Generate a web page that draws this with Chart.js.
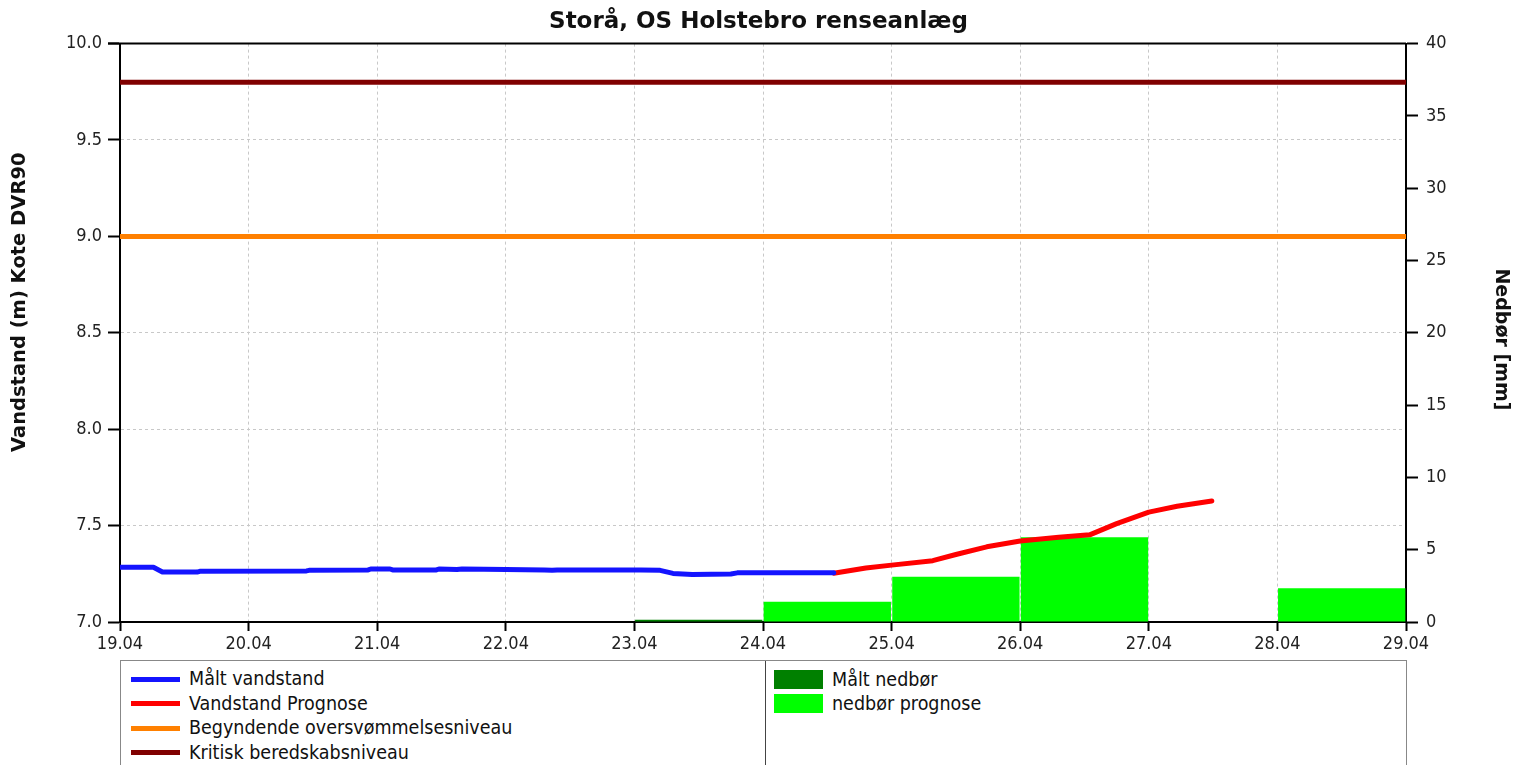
<!DOCTYPE html>
<html>
<head>
<meta charset="utf-8">
<script src="https://cdn.jsdelivr.net/npm/chart.js@4"></script>
<style>
  body { margin: 0; background: #fff; font-family: 'DejaVu Sans Condensed', 'Liberation Sans', sans-serif; }
  #wrap { position: relative; width: 1517px; height: 765px; overflow: hidden; }
  #legend { position: absolute; left: 120px; top: 660px; width: 1287px; height: 120px; border: 1px solid #888; box-sizing: border-box; }
  #legend .col { position: absolute; top: 0; height: 100%; }
  #legend .item { position: absolute; font-size: 19.5px; line-height: 24px; color: #111; white-space: nowrap; }
  #legend .line { position: absolute; width: 49px; height: 5px; }
  #legend .box { position: absolute; width: 49px; height: 19px; }
</style>
</head>
<body>
<div id="wrap">
  <canvas id="chart" width="1517" height="660"></canvas>
  <div id="legend"></div>
</div>
<script>
const title = 'Storå, OS Holstebro renseanlæg';
const dayLabels = ['19.04', '20.04', '21.04', '22.04', '23.04', '24.04', '25.04', '26.04', '27.04', '28.04', '29.04'];

// vandstand, x = dage efter 19.04
const maaltDag = [0, 0.26, 0.33, 0.6, 0.62, 1.45, 1.47, 1.93, 1.95, 2.10, 2.12, 2.46, 2.48, 2.62, 2.66, 3.0, 3.3, 3.36, 3.4, 4.05, 4.2, 4.3, 4.45, 4.75, 4.8, 5.0, 5.55];
const maaltVand = [7.284, 7.284, 7.259, 7.259, 7.263, 7.265, 7.268, 7.270, 7.275, 7.275, 7.270, 7.270, 7.275, 7.272, 7.275, 7.272, 7.270, 7.268, 7.270, 7.270, 7.268, 7.252, 7.247, 7.249, 7.255, 7.255, 7.255];
const progDag = [5.55, 5.8, 6.0, 6.32, 6.5, 6.74, 7.0, 7.3, 7.54, 7.75, 8.0, 8.22, 8.49];
const progVand = [7.253, 7.28, 7.295, 7.318, 7.35, 7.39, 7.42, 7.44, 7.452, 7.51, 7.57, 7.60, 7.628];

const oversvoemNiveau = 9.0;
const kritiskNiveau = 9.8;

// nedbør pr. døgn (19.04 .. 28.04)
const nedborDage = ['19.04', '20.04', '21.04', '22.04', '23.04', '24.04', '25.04', '26.04', '27.04', '28.04'];
const maaltNedbor = [0, 0, 0, 0, 0.15, 0, 0, 0, 0, 0];
const prognoseNedbor = [0, 0, 0, 0, 0, 1.4, 3.13, 5.86, 0, 2.33];

const FONT = "'DejaVu Sans Condensed', 'Liberation Sans', sans-serif";
const BOLD = "'DejaVu Sans', 'Liberation Sans', sans-serif";

const toXY = (xs, ys) => xs.map((x, i) => ({ x: x, y: ys[i] }));

const legendLines = [
  { label: 'Målt vandstand', color: '#1414ff' },
  { label: 'Vandstand Prognose', color: '#ff0000' },
  { label: 'Begyndende oversvømmelsesniveau', color: '#ff8000' },
  { label: 'Kritisk beredskabsniveau', color: '#800000' },
];
const legendBars = [
  { label: 'Målt nedbør', color: '#008000' },
  { label: 'nedbør prognose', color: '#00ff00' },
];

const frame = {
  id: 'frame',
  afterDraw(chart) {
    const { ctx, chartArea: a } = chart;
    ctx.save();
    ctx.strokeStyle = '#000';
    ctx.lineWidth = 2;
    ctx.beginPath();
    ctx.moveTo(a.left - 12, a.top);
    ctx.lineTo(a.right, a.top);
    ctx.stroke();
    ctx.restore();
  }
};

const ctx = document.getElementById('chart');
const chart = new Chart(ctx, {
  type: 'bar',
  data: {
    datasets: [
      { type: 'line', label: legendLines[3].label, data: [{ x: 0, y: kritiskNiveau }, { x: 10, y: kritiskNiveau }],
        borderColor: legendLines[3].color, borderWidth: 5, pointRadius: 0, xAxisID: 'x', yAxisID: 'y', order: 1 },
      { type: 'line', label: legendLines[2].label, data: [{ x: 0, y: oversvoemNiveau }, { x: 10, y: oversvoemNiveau }],
        borderColor: legendLines[2].color, borderWidth: 5, pointRadius: 0, xAxisID: 'x', yAxisID: 'y', order: 1 },
      { type: 'line', label: legendLines[0].label, data: toXY(maaltDag, maaltVand),
        borderColor: legendLines[0].color, borderWidth: 5, pointRadius: 0, borderCapStyle: 'round', borderJoinStyle: 'round',
        xAxisID: 'x', yAxisID: 'y', order: 1 },
      { type: 'line', label: legendLines[1].label, data: toXY(progDag, progVand),
        borderColor: legendLines[1].color, borderWidth: 5, pointRadius: 0, borderCapStyle: 'round', borderJoinStyle: 'round',
        xAxisID: 'x', yAxisID: 'y', order: 1 },
      { label: legendBars[0].label, data: maaltNedbor, backgroundColor: legendBars[0].color,
        xAxisID: 'xb', yAxisID: 'y2', grouped: false, barPercentage: 0.99, categoryPercentage: 1, order: 2 },
      { label: legendBars[1].label, data: prognoseNedbor, backgroundColor: legendBars[1].color,
        xAxisID: 'xb', yAxisID: 'y2', grouped: false, barPercentage: 0.99, categoryPercentage: 1, order: 2 },
    ]
  },
  options: {
    responsive: false,
    animation: false,
    layout: { padding: 0 },
    plugins: {
      legend: { display: false },
      tooltip: { enabled: false },
      title: {
        display: true,
        text: title,
        color: '#111',
        font: { family: BOLD, size: 23, weight: 'bold', lineHeight: 1.2 },
        padding: { top: 8, bottom: 8 },
      },
    },
    scales: {
      x: {
        type: 'linear',
        position: 'bottom',
        min: 0,
        max: 10,
        offset: false,
        afterFit(s) { s.height = 38; },
        ticks: {
          stepSize: 1,
          autoSkip: false,
          maxRotation: 0,
          padding: 3,
          color: '#222',
          font: { family: FONT, size: 18 },
          callback: (v) => dayLabels[v],
        },
        grid: { offset: false, color: '#c8c8c8', tickColor: '#000', tickLength: 9, tickWidth: 2 },
        border: { color: '#000', width: 2, dash: [3, 3] },
      },
      xb: {
        type: 'category',
        labels: nedborDage,
        display: false,
        offset: true,
      },
      y: {
        position: 'left',
        min: 7,
        max: 10,
        afterFit(s) { s.width = 120; },
        ticks: {
          stepSize: 0.5,
          padding: 6,
          color: '#222',
          font: { family: FONT, size: 18 },
          callback: (v) => v.toFixed(1),
        },
        grid: { color: '#c8c8c8', tickColor: '#000', tickLength: 12, tickWidth: 2 },
        border: { color: '#000', width: 2, dash: [3, 3] },
        title: {
          display: true,
          // mellemrum foran flytter teksten lidt op som i originalen
          text: '         Vandstand (m) Kote DVR90',
          color: '#111',
          font: { family: BOLD, size: 19.5, weight: 'bold', lineHeight: 1.2 },
          padding: { top: 8, bottom: 0 },
        },
      },
      y2: {
        position: 'right',
        min: 0,
        max: 40,
        afterFit(s) { s.width = 111; },
        ticks: {
          stepSize: 5,
          padding: 8,
          color: '#222',
          font: { family: FONT, size: 18 },
        },
        grid: { drawOnChartArea: false, tickColor: '#000', tickLength: 12, tickWidth: 2 },
        border: { color: '#000', width: 2 },
        title: {
          display: true,
          text: '  Nedbør [mm]',
          color: '#111',
          font: { family: BOLD, size: 19, weight: 'bold', lineHeight: 1.2 },
          padding: { top: 5, bottom: 0 },
        },
      },
    },
  },
  plugins: [frame],
});

// legende under grafen
const legend = document.getElementById('legend');
const colL = document.createElement('div');
colL.className = 'col';
colL.style.left = '0px';
colL.style.width = '644px';
colL.style.borderRight = '1px solid #444';
legend.appendChild(colL);
legendLines.forEach((it, i) => {
  const y = 18 + i * 24.6;
  const ln = document.createElement('div');
  ln.className = 'line';
  ln.style.left = '10px';
  ln.style.top = (y - 2.5) + 'px';
  ln.style.background = it.color;
  colL.appendChild(ln);
  const tx = document.createElement('div');
  tx.className = 'item';
  tx.style.left = '68px';
  tx.style.top = (y - 12) + 'px';
  tx.textContent = it.label;
  colL.appendChild(tx);
});
const colR = document.createElement('div');
colR.className = 'col';
colR.style.left = '645px';
colR.style.width = '640px';
legend.appendChild(colR);
legendBars.forEach((it, i) => {
  const y = 18.5 + i * 24;
  const bx = document.createElement('div');
  bx.className = 'box';
  bx.style.left = '8px';
  bx.style.top = (y - 9.5) + 'px';
  bx.style.background = it.color;
  colR.appendChild(bx);
  const tx = document.createElement('div');
  tx.className = 'item';
  tx.style.left = '66px';
  tx.style.top = (y - 12) + 'px';
  tx.textContent = it.label;
  colR.appendChild(tx);
});
</script>
</body>
</html>
